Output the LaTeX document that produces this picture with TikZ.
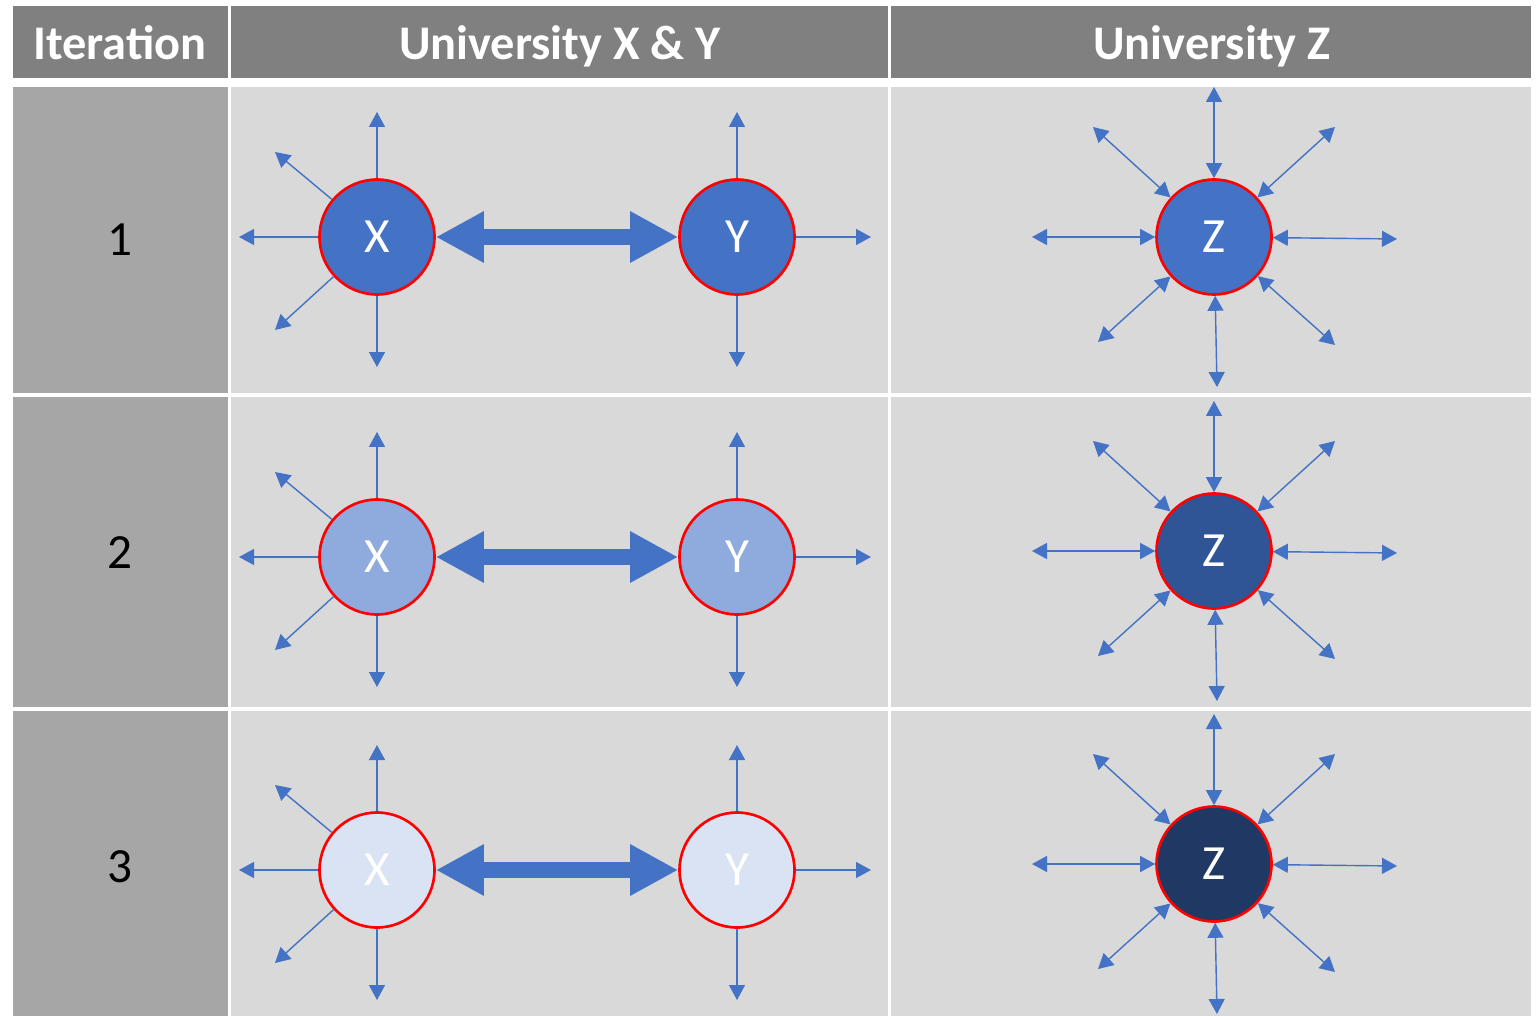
\documentclass[tikz,border=0pt]{standalone}
\usepackage{fontspec}
\setmainfont{Carlito}
\usetikzlibrary{arrows.meta}
\definecolor{hdrgray}{HTML}{808080}
\definecolor{itergray}{HTML}{A6A6A6}
\definecolor{cellgray}{HTML}{D9D9D9}
\definecolor{unibright}{HTML}{4472C4}
\definecolor{unipale}{HTML}{8FAADC}
\definecolor{unifaint}{HTML}{DAE3F3}
\definecolor{unideep}{HTML}{2F5597}
\definecolor{unidark}{HTML}{1F3864}
\definecolor{ringred}{HTML}{FF0000}
\tikzset{
  hdrtext/.style={anchor=base, inner sep=0pt, text=white, font=\fontsize{27.5}{33}\selectfont\bfseries},
  numtext/.style={inner sep=0pt, text=black, font=\fontsize{28}{34}\selectfont},
  uni/.style={circle, draw=ringred, line width=1.5pt, minimum size=2.3cm, inner sep=0pt,
    text=white, font=\fontsize{28}{34}\selectfont},
  link/.style={-{Triangle[length=0.3cm, width=0.32cm]}, line width=0.8pt, unibright},
  duallink/.style={{Triangle[length=0.3cm, width=0.32cm]}-{Triangle[length=0.3cm, width=0.32cm]},
    line width=0.8pt, unibright},
  bigarr/.style={{Triangle[length=0.96cm, width=0.96cm]}-{Triangle[length=0.96cm, width=0.96cm]},
    line width=0.32cm, unibright},
}
\begin{document}
\begin{tikzpicture}[x=0.02cm, y=-0.02cm]
  \useasboundingbox (0,0) rectangle (1540,1016);
  % header row
  \fill[hdrgray] (13,6) rectangle (228,78);
  \fill[hdrgray] (231,6) rectangle (888,78);
  \fill[hdrgray] (891,6) rectangle (1531,78);
  \node[hdrtext] (hiter) at (120,60) {Iteration};
  \node[hdrtext] (hxy) at (560,60) {University X \& Y};
  \node[hdrtext] (hz) at (1212,60) {University Z};

  % one row per iteration
  \foreach \row/\celltop/\cellbot/\numy/\yc/\zy/\xyfill/\zfill in
      {1/87/393/240/237/237/unibright/unibright,
       2/397/707/553/557/551/unipale/unideep,
       3/711/1016/867/870/864/unifaint/unidark}{
    \fill[itergray] (13,\celltop) rectangle (228,\cellbot);
    \fill[cellgray] (231,\celltop) rectangle (888,\cellbot);
    \fill[cellgray] (891,\celltop) rectangle (1531,\cellbot);
    \node[numtext] (n\row) at (120,\numy) {\row};

    % universities
    \node[uni, fill=\xyfill] (x\row) at (377,\yc) {X};
    \node[uni, fill=\xyfill] (y\row) at (737,\yc) {Y};
    \node[uni, fill=\zfill] (z\row) at (1214,\zy) {Z};

    % X and Y exchange with each other
    \draw[bigarr] (x\row) -- (y\row);

    % outgoing links of X
    \coordinate (xn\row) at (377,\yc-125);
    \coordinate (xs\row) at (377,\yc+130);
    \coordinate (xw\row) at (239,\yc);
    \coordinate (xnw\row) at (275,\yc-85);
    \coordinate (xsw\row) at (275,\yc+93);
    \draw[link] (x\row) -- (xn\row);
    \draw[link] (x\row) -- (xs\row);
    \draw[link] (x\row) -- (xw\row);
    \draw[link] (x\row) -- (xnw\row);
    \draw[link] (x\row) -- (xsw\row);

    % outgoing links of Y
    \coordinate (yn\row) at (737,\yc-125);
    \coordinate (ys\row) at (737,\yc+130);
    \coordinate (ye\row) at (871,\yc);
    \draw[link] (y\row) -- (yn\row);
    \draw[link] (y\row) -- (ys\row);
    \draw[link] (y\row) -- (ye\row);

    % Z exchanges in every direction
    \coordinate (zn\row) at (1214,\zy-150);
    \coordinate (znw\row) at (1093,\zy-110);
    \coordinate (zne\row) at (1335,\zy-110);
    \coordinate (zw\row) at (1032,\zy);
    \coordinate (ze\row) at (1397,\zy+2);
    \coordinate (zsw\row) at (1098,\zy+105);
    \coordinate (zse\row) at (1335,\zy+108);
    \coordinate (zs\row) at (1217,\zy+150);
    \foreach \dir in {n,nw,ne,w,e,sw,se,s}
      \draw[duallink] (z\row) -- (z\dir\row);
  }
\end{tikzpicture}
\end{document}
